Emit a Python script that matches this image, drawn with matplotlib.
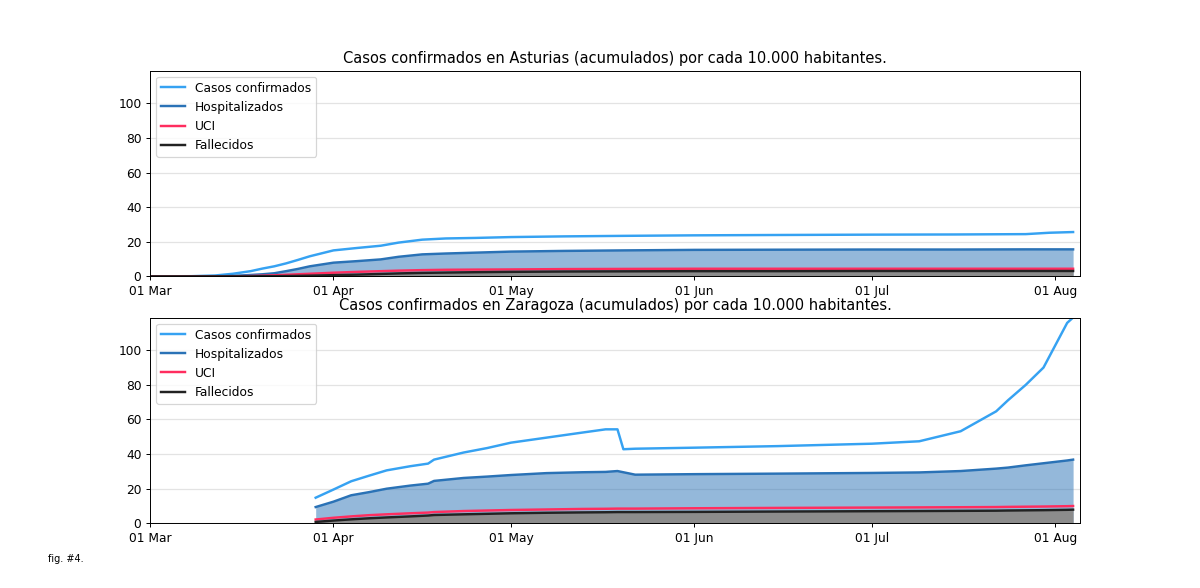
import numpy as np
import pandas as pd
import matplotlib
matplotlib.use('Agg')
import matplotlib.pyplot as plt
import matplotlib.dates as mdates

ast_dates = pd.to_datetime(['2020-03-01', '2020-03-08', '2020-03-12', '2020-03-15', '2020-03-18',
                            '2020-03-20', '2020-03-22', '2020-03-24', '2020-03-26', '2020-03-28',
                            '2020-04-01', '2020-04-05', '2020-04-09', '2020-04-12', '2020-04-16',
                            '2020-04-20', '2020-04-25', '2020-05-01', '2020-05-10', '2020-05-20',
                            '2020-06-01', '2020-06-15', '2020-07-01', '2020-07-15', '2020-07-27',
                            '2020-07-31', '2020-08-04'])
ast_conf = [0, 0.1, 0.5, 1.5, 3, 4.5, 5.8, 7.5, 9.5, 11.6,
            15, 16.4, 17.7, 19.5, 21.2, 21.9, 22.2, 22.7, 23.1, 23.4,
            23.7, 23.9, 24.1, 24.2, 24.4, 25.2, 25.6]
ast_hosp = [0, 0, 0, 0.3, 0.8, 1.2, 1.8, 3, 4.3, 5.8,
            7.9, 8.8, 9.8, 11.3, 12.7, 13.2, 13.7, 14.3, 14.7, 15,
            15.3, 15.4, 15.5, 15.5, 15.6, 15.6, 15.6]
ast_uci = [0, 0, 0, 0, 0.2, 0.4, 0.6, 0.9, 1.2, 1.5,
           2.1, 2.6, 3, 3.3, 3.6, 3.8, 3.9, 4.0, 4.2, 4.3,
           4.4, 4.4, 4.4, 4.4, 4.4, 4.4, 4.4]
ast_fall = [0, 0, 0, 0, 0, 0.1, 0.1, 0.2, 0.3, 0.4,
            0.7, 1.0, 1.4, 1.7, 2.0, 2.2, 2.4, 2.6, 2.8, 2.9,
            3.0, 3.0, 3.1, 3.1, 3.1, 3.1, 3.1]

zar_dates = pd.to_datetime(['2020-03-29', '2020-04-01', '2020-04-04', '2020-04-07', '2020-04-10',
                            '2020-04-14', '2020-04-17', '2020-04-18', '2020-04-23', '2020-04-27',
                            '2020-05-01', '2020-05-07', '2020-05-13', '2020-05-17', '2020-05-19',
                            '2020-05-20', '2020-05-22', '2020-06-01', '2020-06-15', '2020-07-01',
                            '2020-07-09', '2020-07-16', '2020-07-22', '2020-07-24', '2020-07-27',
                            '2020-07-30', '2020-08-03', '2020-08-04'])
zar_conf = [14.8, 19.5, 24.3, 27.5, 30.6, 33, 34.5, 36.8, 40.9, 43.5,
            46.6, 49.5, 52.4, 54.3, 54.3, 42.8, 43.1, 43.7, 44.6, 46,
            47.4, 53.2, 64.7, 71.1, 80, 90, 115.8, 118.9]
zar_hosp = [9.4, 12.5, 16.2, 18, 20, 21.8, 22.9, 24.5, 26.2, 27,
            27.9, 29, 29.5, 29.7, 30.2, 29.5, 28.1, 28.4, 28.7, 29.1,
            29.4, 30.2, 31.6, 32.2, 33.5, 34.7, 36.3, 36.8]
zar_uci = [2.2, 3.2, 4.0, 4.7, 5.2, 5.8, 6.2, 6.5, 7.1, 7.4,
           7.7, 8.0, 8.3, 8.4, 8.5, 8.5, 8.5, 8.7, 8.9, 9.1,
           9.2, 9.3, 9.4, 9.5, 9.6, 9.7, 9.9, 10]
zar_fall = [0.8, 1.6, 2.3, 2.9, 3.4, 4.0, 4.5, 4.8, 5.2, 5.5,
            5.8, 6.1, 6.3, 6.4, 6.5, 6.5, 6.5, 6.6, 6.8, 7.0,
            7.1, 7.2, 7.3, 7.4, 7.5, 7.6, 7.8, 7.9]

regions = [
  ('Asturias', ast_dates, ast_conf, ast_hosp, ast_uci, ast_fall),
  ('Zaragoza', zar_dates, zar_conf, zar_hosp, zar_uci, zar_fall),
]

c_conf = '#36a2f2'
c_hosp = '#2a72b6'
c_uci = '#ff2d5f'
c_fall = '#222222'

def main():
  dpi = 88
  fig, axes = plt.subplots(2, 1, figsize=(1200 / dpi, 588 / dpi), dpi=dpi)
  ymax = max(max(r[2]) for r in regions)
  for ax, (name, dates, conf, hosp, uci, fall) in zip(axes, regions):
    ax.grid(axis='y', color='#e3e3e3', linewidth=1)
    ax.set_axisbelow(True)
    ax.fill_between(dates, 0, hosp, color=c_hosp, alpha=0.5, linewidth=0)
    ax.fill_between(dates, 0, fall, color='#8c8c8c', linewidth=0)
    ax.plot(dates, conf, color=c_conf, linewidth=2, label='Casos confirmados')
    ax.plot(dates, hosp, color=c_hosp, linewidth=2, label='Hospitalizados')
    ax.plot(dates, uci, color=c_uci, linewidth=2, label='UCI')
    ax.plot(dates, fall, color=c_fall, linewidth=2, label='Fallecidos')
    ax.set_title(f'Casos confirmados en {name} (acumulados) por cada 10.000 habitantes.')
    ax.set_xlim(pd.Timestamp('2020-03-01'), pd.Timestamp('2020-08-05 04:00'))
    ax.set_ylim(0, ymax)
    ax.set_yticks([0, 20, 40, 60, 80, 100])
    ax.xaxis.set_major_locator(mdates.MonthLocator())
    ax.xaxis.set_major_formatter(mdates.DateFormatter('%d %b'))
    ax.legend(loc='upper left')
  fig.text(0.04, 0.045, 'fig. #4.', fontsize=8)
  fig.savefig('out.png', dpi=dpi)

if __name__ == '__main__':
  main()
